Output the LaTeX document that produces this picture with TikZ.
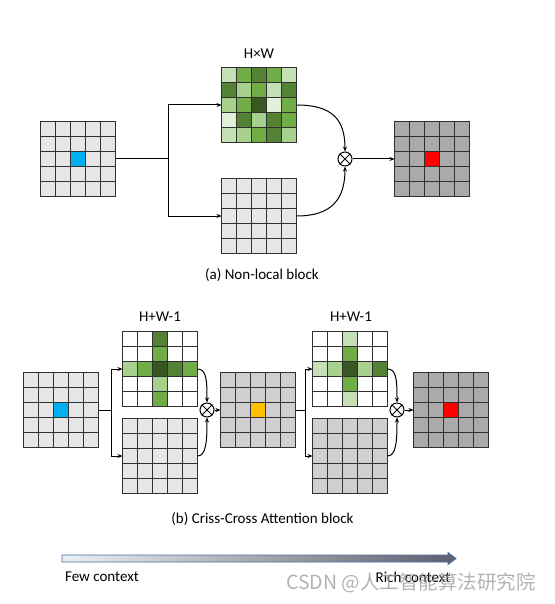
\documentclass[tikz,border=0pt]{standalone}
\usepackage{fontspec}
\setmainfont{Carlito}
\newfontfamily\cjk{Noto Sans CJK SC}
\usetikzlibrary{arrows.meta,calc}
\definecolor{gL1}{HTML}{E2F0D9}
\definecolor{gL2}{HTML}{C5E0B4}
\definecolor{gL3}{HTML}{A9D18E}
\definecolor{gM}{HTML}{70AD47}
\definecolor{gD}{HTML}{548235}
\definecolor{gDD}{HTML}{385723}
\definecolor{grA}{HTML}{E6E6E6}
\definecolor{grB}{HTML}{D0CECE}
\definecolor{grC}{HTML}{ABA9A9}
\definecolor{gline}{HTML}{303030}
\definecolor{cyanc}{HTML}{00B0F0}
\definecolor{orangec}{HTML}{FFC000}
\definecolor{redc}{HTML}{FF0000}
\definecolor{barL}{HTML}{EAF0F8}
\definecolor{barR}{HTML}{5E5E6C}
\definecolor{barE}{HTML}{4E6C9C}
\tikzset{
  gridbox/.style={rectangle, minimum size=75pt, inner sep=0pt, outer sep=0pt},
  gridline/.style={draw=gline, line width=1.2pt},
  conn/.style={line width=1pt, black},
  arr/.style={conn, -{Stealth[length=5pt,width=4pt]}},
  mult/.style={circle, draw, line width=1pt, minimum size=14pt, inner sep=0pt},
  lbl/.style={font=\fontsize{15}{17}\selectfont, inner sep=0pt},
}
\newcommand{\cgrid}[4]{%
  \node[gridbox, fill=#3] (#1) at (#2) {};
  \foreach \cc/\rr/\col in {#4}{\fill[\col] ($(#1.north west)+({(\cc-1)*15},{(\rr-1)*15})$) rectangle ++(15,15);}
  \foreach \i in {1,2,3,4}{
    \draw[gridline] ($(#1.north west)+({\i*15},0)$) -- ++(0,75);
    \draw[gridline] ($(#1.north west)+(0,{\i*15})$) -- ++(75,0);
  }
  \draw[gridline] (#1.north west) rectangle (#1.south east);
}
\newcommand{\multnode}[2]{%
  \node[mult] (#1) at (#2) {};
  \draw[line width=1pt] (#1.north east) -- (#1.south west) (#1.north west) -- (#1.south east);
}
\begin{document}
\begin{tikzpicture}[x=1pt, y=-1pt]
\useasboundingbox[fill=white] (0,0) rectangle (554,604);

% ---------- (a) Non-local block ----------
\cgrid{inA}{78,159}{grA}{3/3/cyanc}
\cgrid{kA}{259,105}{grA}{1/1/gL2, 2/1/gM, 3/1/gD, 4/1/gM, 5/1/gL2,
  1/2/gD, 2/2/gL3, 3/2/gM, 4/2/gL2, 5/2/gD,
  1/3/gL3, 2/3/gM, 3/3/gDD, 4/3/gL1, 5/3/gM,
  1/4/gL1, 2/4/gD, 3/4/gL3, 4/4/gD, 5/4/gM,
  1/5/gL2, 2/5/gL3, 3/5/gM, 4/5/gD, 5/5/gL3}
\cgrid{vA}{259,216}{grA}{1/1/grA}
\cgrid{outA}{432,159}{grC}{3/3/redc}
\multnode{oA}{345,159}
\node[lbl] (tA) at (259,54) {H×W};
\node[lbl] (capA) at (262,275) {(a) Non-local block};

\coordinate (bA) at (168,159);
\draw[conn] (inA.east) -- (bA);
\draw[arr] (bA) |- (kA.west);
\draw[arr] (bA) |- (vA.west);
\draw[arr] (kA.east) .. controls +(36,0) and +(0,-32) .. (oA.north);
\draw[arr] (vA.east) .. controls +(36,0) and +(0,32) .. (oA.south);
\draw[arr] (oA.east) -- (outA.west);

% ---------- (b) Criss-Cross Attention block ----------
\cgrid{inB}{61,410}{grA}{3/3/cyanc}
\cgrid{kB1}{160,369}{white}{3/1/gD, 3/2/gM, 1/3/gL3, 2/3/gM, 3/3/gDD, 4/3/gD, 5/3/gM, 3/4/gL3, 3/5/gM}
\cgrid{vB1}{160,456}{grA}{1/1/grA}
\multnode{oB1}{207,410}
\cgrid{midB}{258,410}{grB}{3/3/orangec}
\cgrid{kB2}{350,369}{white}{3/1/gL2, 3/2/gM, 1/3/gL2, 2/3/gL3, 3/3/gDD, 4/3/gL3, 5/3/gD, 3/4/gM, 3/5/gL2}
\cgrid{vB2}{350,456}{grB}{1/1/grB}
\multnode{oB2}{397,410}
\cgrid{outB}{451,410}{grC}{3/3/redc}
\node[lbl] (tB1) at (160,317) {H+W-1};
\node[lbl] (tB2) at (351,317) {H+W-1};
\node[lbl] (capB) at (262.5,519) {(b) Criss-Cross Attention block};

\coordinate (bB1) at (111,410);
\draw[conn] (inB.east) -- (bB1);
\draw[arr] (bB1) |- (kB1.west);
\draw[arr] (bB1) |- (vB1.west);
\draw[arr] (kB1.east) .. controls +(9,0) and +(0,-22) .. (oB1.north);
\draw[arr] (vB1.east) .. controls +(9,0) and +(0,22) .. (oB1.south);
\draw[arr] (oB1.east) -- (midB.west);

\coordinate (bB2) at (305,410);
\draw[conn] (midB.east) -- (bB2);
\draw[arr] (bB2) |- (kB2.west);
\draw[arr] (bB2) |- (vB2.west);
\draw[arr] (kB2.east) .. controls +(9,0) and +(0,-22) .. (oB2.north);
\draw[arr] (vB2.east) .. controls +(9,0) and +(0,22) .. (oB2.south);
\draw[arr] (oB2.east) -- (outB.west);

% ---------- context arrow ----------
\shadedraw[left color=barL, right color=barR, draw=barE, line width=0.8pt]
  (62,555) -- (448,555) -- (448,552.5) -- (456,558.5) -- (448,564.5) -- (448,562) -- (62,562) -- cycle;
\node[lbl] (few) at (102,577) {Few context};
\node[lbl] (rich) at (413,577) {Rich context};

% watermark
\node[anchor=west, inner sep=0pt, text=black!40, opacity=0.75, font=\cjk\fontsize{19.5}{22}\selectfont] (wm) at (286,583) {CSDN @人工智能算法研究院};
\end{tikzpicture}
\end{document}
